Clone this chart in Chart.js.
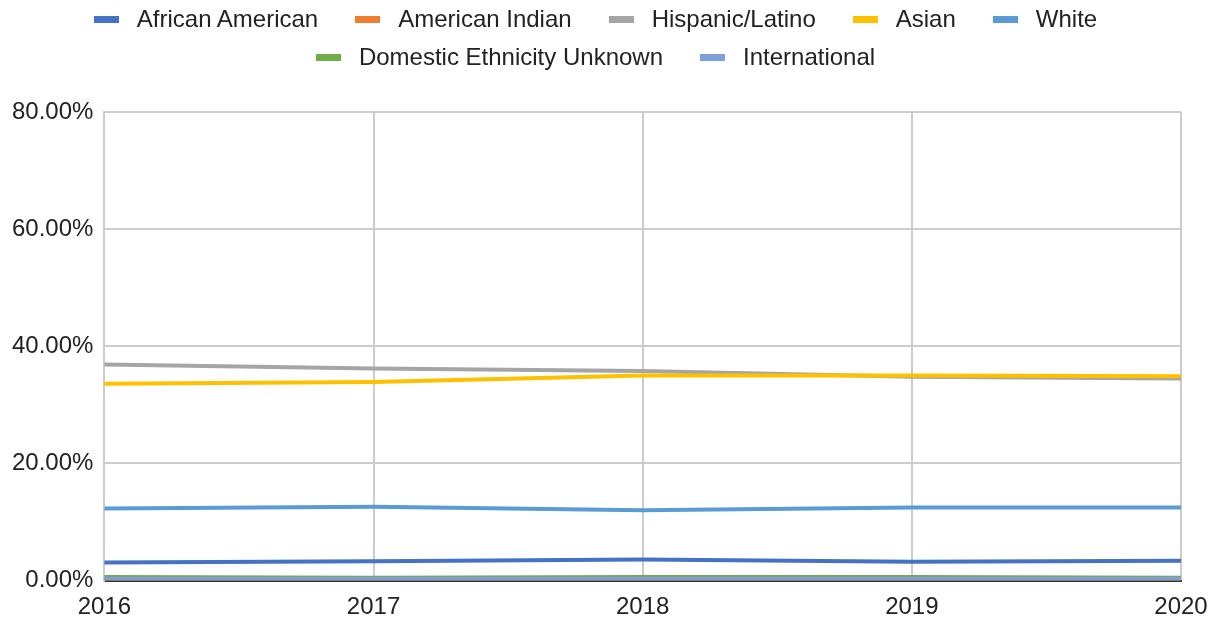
<!DOCTYPE html>
<html>
<head>
<meta charset="utf-8">
<script src="https://cdn.jsdelivr.net/npm/chart.js@4"></script>
<style>
  html, body { margin: 0; padding: 0; background: #fff; }
  #wrap { position: relative; width: 1222px; height: 624px; }
  #legend {
    position: absolute; left: 0; top: 0; width: 1190px;
    display: flex; flex-wrap: wrap; justify-content: center;
    font: 24px 'Liberation Sans', Arial, sans-serif; color: #222;
    line-height: 38px;
  }
  #legend .item { display: flex; align-items: center; margin: 0 18px 0 19px; white-space: nowrap; }
  #legend .box { width: 25px; height: 7px; margin-right: 18px; }
</style>
</head>
<body>
<div id="wrap">
  <canvas id="ethChart"></canvas>
  <div id="legend"></div>
</div>
<script>
// years on the x axis
const years = ['2016', '2017', '2018', '2019', '2020'];

// share of students, in percent
const africanAmerican = [3.1, 3.3, 3.6, 3.2, 3.4];
const americanIndian = [0.1, 0.1, 0.1, 0.1, 0.1];
const hispanicLatino = [36.9, 36.2, 35.8, 34.8, 34.5];
const asian = [33.6, 33.9, 35.0, 35.0, 34.9];
const white = [12.3, 12.6, 12.0, 12.5, 12.5];
const domesticUnknown = [0.6, 0.5, 0.6, 0.6, 0.5];
const international = [0.3, 0.3, 0.3, 0.3, 0.3];

const yTicks = [0, 20, 40, 60, 80];

const series = [
  ['African American', africanAmerican, '#4472c4'],
  ['American Indian', americanIndian, '#ed7d31'],
  ['Hispanic/Latino', hispanicLatino, '#a5a5a5'],
  ['Asian', asian, '#ffc000'],
  ['White', white, '#5b9bd5'],
  ['Domestic Ethnicity Unknown', domesticUnknown, '#70ad47'],
  ['International', international, '#7f9fd9']
];

const font = "'Liberation Sans', Arial, sans-serif";

const chart = new Chart(document.getElementById('ethChart'), {
  type: 'line',
  data: {
    labels: years,
    datasets: series.map((s, i) => ({
      label: s[0],
      data: s[1],
      borderColor: s[2],
      backgroundColor: s[2],
      borderWidth: 4,
      pointRadius: 0,
      tension: 0,
      order: -i   // later series drawn on top
    }))
  },
  options: {
    responsive: true,
    maintainAspectRatio: false,
    animation: false,
    // negative bottom so the year labels can sit lower, as in the original
    layout: { padding: { left: 1, right: 41, top: 112, bottom: -11 } },
    plugins: {
      tooltip: { enabled: false },
      legend: { display: false }
    },
    scales: {
      x: {
        offset: false,
        grid: { color: '#cccccc', lineWidth: 2, drawTicks: false },
        border: { color: '#333333', width: 2 },
        ticks: {
          font: { family: font, size: 24, lineHeight: 1.1 },
          color: '#222',
          padding: 14,
          maxRotation: 0
        }
      },
      y: {
        min: 0,
        max: 80,
        afterBuildTicks(axis) { axis.ticks = yTicks.map(v => ({ value: v })); },
        grid: { color: '#cccccc', lineWidth: 2, drawTicks: false },
        border: { color: '#cccccc', width: 2 },
        ticks: {
          font: { family: font, size: 24 },
          color: '#222',
          padding: 11,
          callback: v => v.toFixed(2) + '%'
        }
      }
    }
  }
});

// legend as html, built from the chart's datasets
document.getElementById('legend').innerHTML = chart.data.datasets.map(d =>
  `<div class="item"><span class="box" style="background:${d.borderColor}"></span>${d.label}</div>`
).join('');
</script>
</body>
</html>
